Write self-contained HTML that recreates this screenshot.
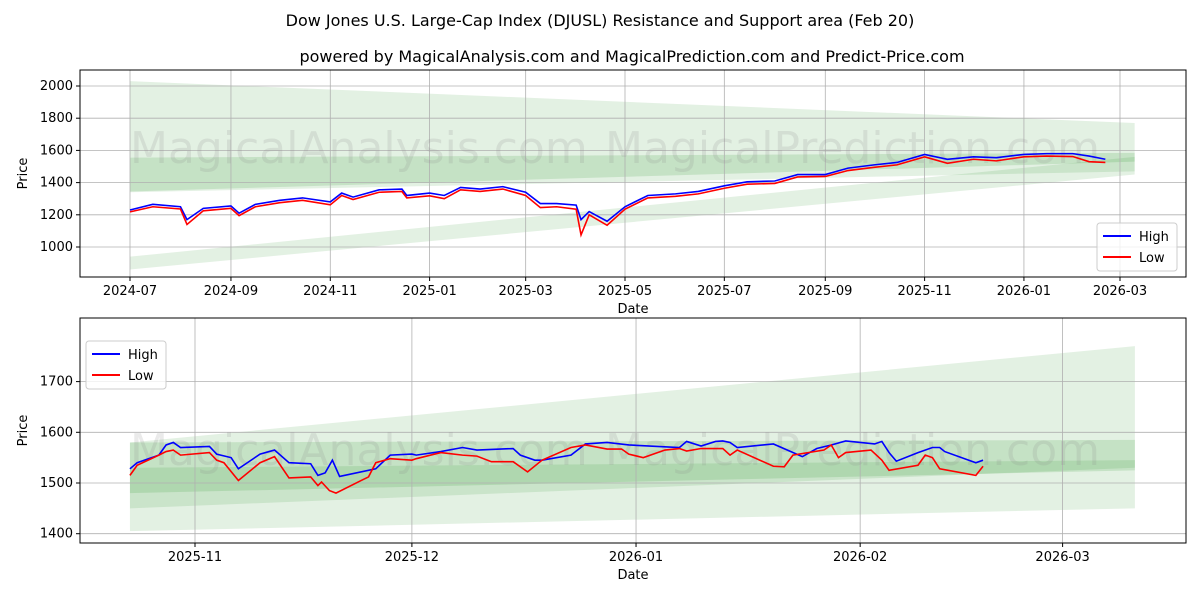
<!DOCTYPE html>
<html><head><meta charset="utf-8"><style>
body{margin:0;background:#fff;font-family:"Liberation Sans","DejaVu Sans",sans-serif}
svg text{font-family:"DejaVu Sans","Liberation Sans",sans-serif}
</style></head><body>
<svg id="c" width="1200" height="600">
<text x="600" y="26" font-size="16" text-anchor="middle">Dow Jones U.S. Large-Cap Index (DJUSL) Resistance and Support area (Feb 20)</text>
<text x="632" y="62" font-size="16" text-anchor="middle">powered by MagicalAnalysis.com and MagicalPrediction.com and Predict-Price.com</text>
</svg>
<script>
// Top chart data (days since 2024-07-01)
const topDays=[0,14,31,35,45,62,67,77,92,106,123,130,137,153,167,170,184,193,203,215,229,243,252,262,274,277,282,293,304,318,335,349,365,379,396,410,427,441,457,471,488,502,518,532,549,563,579,589,599];
const topHigh=[1230,1265,1250,1170,1240,1255,1210,1265,1290,1305,1280,1335,1310,1355,1360,1320,1335,1320,1370,1360,1375,1340,1270,1270,1260,1170,1220,1160,1250,1320,1330,1345,1380,1405,1410,1450,1450,1490,1510,1525,1575,1545,1560,1555,1575,1580,1580,1565,1545];
const topLow=[1218,1250,1236,1140,1225,1240,1195,1250,1275,1290,1262,1320,1295,1340,1345,1305,1318,1300,1355,1345,1360,1320,1245,1250,1235,1075,1200,1135,1235,1305,1315,1330,1365,1390,1395,1435,1438,1475,1495,1510,1560,1520,1545,1535,1560,1565,1562,1530,1525];
const topYTicks=[1000,1200,1400,1600,1800,2000];
const topXTicks=["2024-07","2024-09","2024-11","2025-01","2025-03","2025-05","2025-07","2025-09","2025-11","2026-01","2026-03"];
const topXTickDays=[0,62,123,184,243,304,365,427,488,549,608];
// Bottom chart data (days since 2025-11-01)
const botHighDays=[-9,-8,-5,-4,-3,-2,2,3,5,6,9,11,13,16,17,18,19,20,25,27,30,30.6,34,37,39,44,45,47,48,52,54,57,60,67,68,70,72,73,74,75,80,84,86,88,90,94,95,96,97,100,102,103,103.7,108,109];
const botHigh=[1528,1540,1555,1575,1580,1570,1572,1557,1550,1528,1557,1565,1540,1538,1515,1520,1545,1513,1528,1555,1557,1555,1562,1570,1565,1568,1555,1545,1545,1555,1577,1580,1575,1570,1582,1573,1582,1583,1580,1570,1577,1552,1568,1575,1583,1577,1582,1560,1543,1560,1570,1570,1562,1540,1545];
const botLowDays=[-9,-8,-5,-4,-3,-2,2,3,4,6,9,11,13,16,17,17.5,18.6,19.5,23,24,25,27,30,30.6,34,37,39,41,44,46,48,52,54,57,59,60,62,65,67,68,70,73,74,75,80,81.5,82.7,87,88,89,90,93.5,95,96,100,101,102,103,108,109];
const botLow=[1515,1535,1555,1562,1565,1555,1560,1545,1540,1505,1540,1552,1510,1512,1495,1502,1485,1480,1505,1512,1540,1548,1545,1548,1560,1555,1553,1542,1542,1522,1545,1570,1575,1567,1567,1557,1550,1565,1568,1563,1568,1568,1555,1565,1533,1532,1555,1565,1575,1550,1560,1565,1545,1525,1535,1555,1550,1528,1515,1533];
const botYTicks=[1400,1500,1600,1700];
const botXTicks=["2025-11","2025-12","2026-01","2026-02","2026-03"];
const botXTickDays=[0,30,61,92,120];

const svg=document.getElementById('c');const NS='http://www.w3.org/2000/svg';
function mk(t,a,p){const e=document.createElementNS(NS,t);for(const k in a)e.setAttribute(k,a[k]);(p||svg).appendChild(e);return e;}
function chart(o){
 const X=d=>o.x0+(d-o.d0)*o.kx, Y=v=>o.y0-(v-o.v0)*o.ky;
 const g=mk('g',{});
 
 
 o.bands.forEach(b=>{const p=mk('polygon',{points:`${X(b[0])},${Y(b[2])} ${X(b[1])},${Y(b[4])} ${X(b[1])},${Y(b[5])} ${X(b[0])},${Y(b[3])}`,fill:'green','fill-opacity':b[6]},g);
 
 });
 o.yt.forEach(v=>{const y=Y(v);mk('line',{x1:o.L,x2:o.R,y1:y,y2:y,stroke:'#b0b0b0','stroke-width':0.8},g);mk('line',{x1:o.L-4,x2:o.L,y1:y,y2:y,stroke:'#000'},g);const t=mk('text',{x:o.L-7,y:y+4,'font-size':13,'text-anchor':'end'},g);t.textContent=v;
 
 });
 o.xt.forEach((s,i)=>{const x=X(o.xd[i]);mk('line',{x1:x,x2:x,y1:o.T,y2:o.B,stroke:'#b0b0b0','stroke-width':0.8},g);mk('line',{x1:x,x2:x,y1:o.B,y2:o.B+4,stroke:'#000'},g);const t=mk('text',{x:x,y:o.B+18,'font-size':13,'text-anchor':'middle'},g);t.textContent=s;
 
 });
 const wm=mk('g',{},g);
 [[o.wm1x,'MagicalAnalysis.com'],[o.wm2x,'MagicalPrediction.com']].forEach(([x,t])=>{const e=mk('text',{x:x,y:o.wmy,'font-size':44,fill:'#888','fill-opacity':0.18},wm);e.textContent=t;
 
 });
 [[o.hd,o.h,'#0000ff','high-line'],[o.ld,o.l,'#ff0000','low-line']].forEach(([d,v,c,n])=>{const p=mk('polyline',{points:d.map((dd,i)=>X(dd)+','+Y(v[i])).join(' '),fill:'none',stroke:c,'stroke-width':1.6},g);
 
 });
 mk('rect',{x:o.L,y:o.T,width:o.R-o.L,height:o.B-o.T,fill:'none',stroke:'#000','stroke-width':1},g);
 let t=mk('text',{x:(o.L+o.R)/2,y:o.B+36,'font-size':13,'text-anchor':'middle'},g);t.textContent='Date';
 
 
 t=mk('text',{x:27,y:(o.T+o.B)/2,'font-size':13,'text-anchor':'middle',transform:`rotate(-90 27 ${(o.T+o.B)/2})`},g);t.textContent='Price';
 
 
 const lg=mk('g',{},g);
 
 
 mk('rect',{x:o.lx,y:o.ly,width:80,height:48,rx:3,fill:'#fff',stroke:'#ccc','fill-opacity':0.8},lg);
 [['High','#0000ff'],['Low','#ff0000']].forEach(([n,c],i)=>{const y=o.ly+13+i*21;mk('line',{x1:o.lx+6,x2:o.lx+34,y1:y,y2:y,stroke:c,'stroke-width':2},lg);const e=mk('text',{x:o.lx+42,y:y+5,'font-size':13},lg);e.textContent=n;
 
 });
}
chart({name:'top-chart',L:80,R:1186,T:70,B:277,x0:130,d0:0,kx:(1120-130)/608,y0:247,v0:1000,ky:0.161,
 yt:topYTicks,xt:topXTicks,xd:topXTickDays,hd:topDays,h:topHigh,ld:topDays,l:topLow,
 bands:[[0,617,1340,2030,1470,1770,0.11],[0,617,1345,1555,1530,1585,0.13],[0,617,860,940,1450,1560,0.11]],
 wm1x:130,wm2x:605,wmy:163,lx:1097,ly:223});
chart({name:'bottom-chart',L:80,R:1186,T:318,B:543,x0:195,d0:0,kx:7.23,y0:483,v0:1500,ky:0.507,
 yt:botYTicks,xt:botXTicks,xd:botXTickDays,hd:botHighDays,h:botHigh,ld:botLowDays,l:botLow,
 bands:[[-9,130,1450,1580,1530,1770,0.11],[-9,130,1405,1530,1450,1545,0.11],[-9,130,1480,1580,1525,1585,0.13]],
 wm1x:130,wm2x:605,wmy:465,lx:86,ly:341});
</script>
</body></html>
